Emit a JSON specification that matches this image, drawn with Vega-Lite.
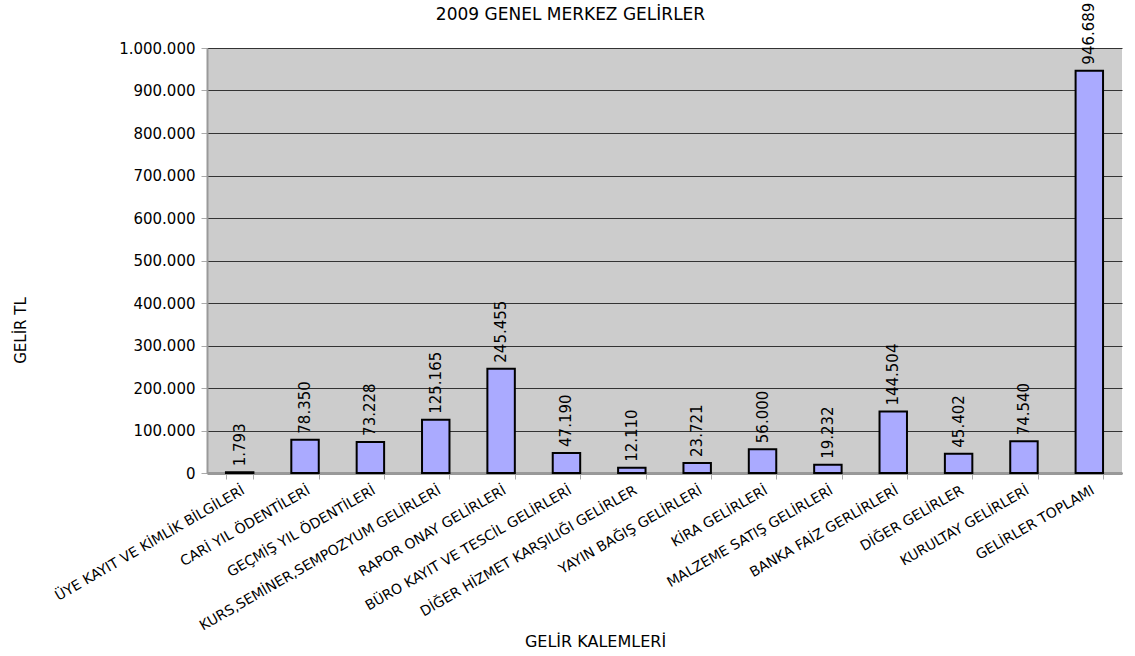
{
  "$schema": "https://vega.github.io/schema/vega-lite/v6.json",
  "autosize": {"type": "none"},
  "padding": {"left": 207, "top": 48, "right": 13, "bottom": 183},
  "width": 915,
  "height": 425,
  "config": {
    "locale": {"number": {"decimal": ",", "thousands": ".", "grouping": [3], "currency": ["", ""]}},
    "font": "DejaVu Sans",
    "view": {"fill": "#cccccc", "stroke": null}
  },
  "title": {"text": "2009 GENEL MERKEZ GELİRLER", "fontSize": 17, "fontWeight": "normal", "font": "DejaVu Sans", "color": "#000", "dx": -94, "dy": 27, "offset": 6},
  "data": {"values": [
    {"k": "ÜYE KAYIT VE KİMLİK BİLGİLERİ", "v": 1793},
    {"k": "CARİ YIL ÖDENTİLERİ", "v": 78350},
    {"k": "GEÇMİŞ YIL ÖDENTİLERİ", "v": 73228},
    {"k": "KURS,SEMİNER,SEMPOZYUM GELİRLERİ", "v": 125165},
    {"k": "RAPOR ONAY  GELİRLERİ", "v": 245455},
    {"k": "BÜRO KAYIT VE TESCİL GELİRLERİ", "v": 47190},
    {"k": "DİĞER HİZMET KARŞILIĞI GELİRLER", "v": 12110},
    {"k": "YAYIN BAĞIŞ GELİRLERİ", "v": 23721},
    {"k": "KİRA GELİRLERİ", "v": 56000},
    {"k": "MALZEME SATIŞ GELİRLERİ", "v": 19232},
    {"k": "BANKA FAİZ GERLİRLERİ", "v": 144504},
    {"k": "DİĞER GELİRLER", "v": 45402},
    {"k": "KURULTAY  GELİRLERİ", "v": 74540},
    {"k": "GELİRLER TOPLAMI", "v": 946689}
  ]},
  "encoding": {
    "x": {"field": "k", "type": "nominal", "sort": null,
      "scale": {"paddingInner": 0.58, "paddingOuter": 0.29},
      "axis": {"title": "GELİR KALEMLERİ", "titleFontSize": 16, "titleFontWeight": "normal", "titleColor": "#000",
        "titleX": 388, "titleY": 168, "titleBaseline": "middle",
        "labelAngle": -30, "labelFontSize": 14, "labelColor": "#000", "labelPadding": 4,
        "tickBand": "extent", "tickColor": "#aaaaaa", "tickSize": 6, "domainColor": "#999999", "domainWidth": 3, "labelLimit": 400}},
    "y": {"field": "v", "type": "quantitative",
      "scale": {"domain": [0, 1000000]},
      "axis": {"title": "GELİR TL", "titleFontSize": 15, "titleFontWeight": "normal", "titleColor": "#000",
        "titleX": -187, "titleY": 282, "titleBaseline": "middle",
        "format": ",d", "values": [0,100000,200000,300000,400000,500000,600000,700000,800000,900000,1000000],
        "labelOverlap": false,
        "labelFontSize": 15, "labelColor": "#000", "labelPadding": 6,
        "gridColor": "#333333", "gridWidth": 1.2, "domainColor": "#999999", "domainWidth": 2,
        "tickColor": "#aaaaaa", "tickSize": 6}}
  },
  "layer": [
    {"mark": {"type": "bar", "fill": "#aaaaff", "stroke": "#000", "strokeWidth": 2}},
    {"mark": {"type": "text", "angle": -90, "align": "left", "baseline": "middle", "dx": 6, "fontSize": 15, "color": "#000"},
     "encoding": {"text": {"field": "v", "type": "quantitative", "format": ",d"}}}
  ]
}
